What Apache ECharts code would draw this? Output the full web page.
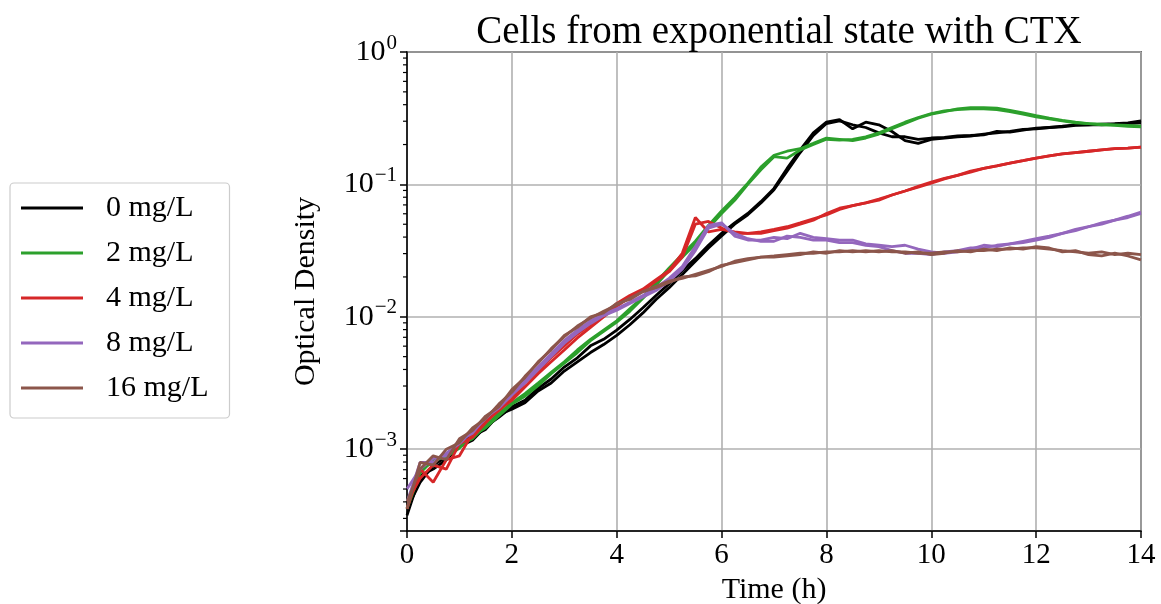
<!DOCTYPE html>
<html lang="en">
<head>
<meta charset="UTF-8" />
<title>Cells from exponential state with CTX</title>
<script src="https://cdnjs.cloudflare.com/ajax/libs/echarts/6.0.0/echarts.min.js"></script>
<style>
  * { margin: 0; padding: 0; }
  body { background: #fff; }
  #chart { width: 1161px; height: 604px; }
</style>
</head>
<body>
<div id="chart"></div>
<script>
// time points (h)
const timeH = [0, 0.25, 0.5, 0.75, 1, 1.25, 1.5, 1.75, 2, 2.25, 2.5, 2.75, 3, 3.25, 3.5, 3.75, 4, 4.25, 4.5, 4.75,
  5, 5.25, 5.5, 5.75, 6, 6.25, 6.5, 6.75, 7, 7.25, 7.5, 7.75, 8, 8.25, 8.5, 8.75, 9, 9.25, 9.5, 9.75,
  10, 10.25, 10.5, 10.75, 11, 11.25, 11.5, 11.75, 12, 12.25, 12.5, 12.75, 13, 13.25, 13.5, 13.75, 14];

// optical density, two replicates per concentration
const od0A = [3.16e-4, 6.31e-4, 7.08e-4, 8.32e-4, 1.05e-3, 1.17e-3, 1.48e-3, 1.74e-3, 2.09e-3, 2.34e-3,
  2.88e-3, 3.39e-3, 4.17e-3, 4.90e-3, 6.03e-3, 6.76e-3, 7.94e-3, 9.55e-3, 1.17e-2, 1.45e-2,
  1.78e-2, 2.24e-2, 2.75e-2, 3.47e-2, 4.27e-2, 5.13e-2, 6.03e-2, 7.41e-2, 9.33e-2, 0.132,
  0.182, 0.245, 0.295, 0.309, 0.263, 0.295, 0.282, 0.251, 0.214, 0.204,
  0.219, 0.224, 0.229, 0.232, 0.240, 0.245, 0.251, 0.260, 0.263, 0.269,
  0.275, 0.282, 0.282, 0.285, 0.288, 0.292, 0.302];
const od0B = [3.55e-4, 5.62e-4, 7.59e-4, 8.71e-4, 1.12e-3, 1.26e-3, 1.41e-3, 1.82e-3, 2.00e-3, 2.24e-3,
  2.75e-3, 3.16e-3, 3.89e-3, 4.57e-3, 5.37e-3, 6.17e-3, 7.24e-3, 8.71e-3, 1.07e-2, 1.35e-2,
  1.66e-2, 2.09e-2, 2.63e-2, 3.31e-2, 4.07e-2, 5.01e-2, 5.89e-2, 7.24e-2, 9.12e-2, 0.126,
  0.174, 0.234, 0.288, 0.302, 0.282, 0.269, 0.245, 0.229, 0.229, 0.219,
  0.224, 0.226, 0.232, 0.234, 0.237, 0.251, 0.248, 0.257, 0.266, 0.269,
  0.272, 0.279, 0.282, 0.282, 0.285, 0.288, 0.292];
const od2A = [3.98e-4, 7.08e-4, 7.94e-4, 9.12e-4, 1.07e-3, 1.20e-3, 1.51e-3, 1.86e-3, 2.24e-3, 2.63e-3,
  3.16e-3, 3.80e-3, 4.57e-3, 5.62e-3, 6.76e-3, 7.94e-3, 9.33e-3, 1.15e-2, 1.41e-2, 1.82e-2,
  2.34e-2, 2.95e-2, 3.72e-2, 4.90e-2, 6.31e-2, 7.94e-2, 0.102, 0.135, 0.166, 0.178,
  0.186, 0.204, 0.224, 0.219, 0.214, 0.224, 0.240, 0.263, 0.288, 0.316,
  0.339, 0.355, 0.372, 0.380, 0.380, 0.376, 0.363, 0.347, 0.331, 0.316,
  0.305, 0.295, 0.288, 0.285, 0.282, 0.279, 0.275];
const od2B = [3.55e-4, 6.61e-4, 8.32e-4, 8.71e-4, 1.02e-3, 1.26e-3, 1.45e-3, 1.78e-3, 2.19e-3, 2.51e-3,
  3.02e-3, 3.72e-3, 4.47e-3, 5.37e-3, 6.61e-3, 7.76e-3, 9.12e-3, 1.10e-2, 1.38e-2, 1.74e-2,
  2.24e-2, 2.82e-2, 3.55e-2, 4.68e-2, 6.03e-2, 7.59e-2, 0.100, 0.129, 0.162, 0.158,
  0.182, 0.200, 0.219, 0.216, 0.219, 0.229, 0.245, 0.269, 0.295, 0.320,
  0.343, 0.359, 0.367, 0.372, 0.372, 0.367, 0.355, 0.339, 0.324, 0.313,
  0.302, 0.292, 0.288, 0.282, 0.279, 0.275, 0.272];
const od4A = [3.55e-4, 7.08e-4, 5.62e-4, 8.32e-4, 8.91e-4, 1.32e-3, 1.62e-3, 1.95e-3, 2.40e-3, 3.16e-3,
  3.89e-3, 4.90e-3, 6.03e-3, 7.41e-3, 8.71e-3, 1.05e-2, 1.26e-2, 1.45e-2, 1.62e-2, 1.91e-2,
  2.24e-2, 3.02e-2, 5.62e-2, 4.37e-2, 4.57e-2, 4.37e-2, 4.27e-2, 4.37e-2, 4.57e-2, 4.79e-2,
  5.13e-2, 5.50e-2, 5.89e-2, 6.46e-2, 6.92e-2, 7.24e-2, 7.59e-2, 8.32e-2, 8.91e-2, 9.55e-2,
  0.102, 0.110, 0.117, 0.124, 0.132, 0.138, 0.145, 0.151, 0.158, 0.164,
  0.170, 0.174, 0.178, 0.182, 0.186, 0.188, 0.191];
const od4B = [3.98e-4, 6.03e-4, 7.59e-4, 7.08e-4, 1.10e-3, 1.23e-3, 1.58e-3, 2.00e-3, 2.34e-3, 2.95e-3,
  3.72e-3, 4.57e-3, 5.62e-3, 6.92e-3, 8.32e-3, 1.00e-2, 1.20e-2, 1.41e-2, 1.58e-2, 1.86e-2,
  2.19e-2, 2.82e-2, 5.01e-2, 5.25e-2, 4.68e-2, 4.27e-2, 4.27e-2, 4.27e-2, 4.47e-2, 4.68e-2,
  5.01e-2, 5.37e-2, 6.03e-2, 6.61e-2, 6.92e-2, 7.24e-2, 7.76e-2, 8.32e-2, 8.91e-2, 9.66e-2,
  0.104, 0.111, 0.117, 0.126, 0.132, 0.138, 0.145, 0.151, 0.158, 0.164,
  0.170, 0.174, 0.178, 0.182, 0.186, 0.188, 0.191];
const od8A = [3.98e-4, 7.94e-4, 7.94e-4, 9.33e-4, 1.10e-3, 1.38e-3, 1.70e-3, 2.14e-3, 2.63e-3, 3.31e-3,
  4.17e-3, 5.25e-3, 6.61e-3, 7.94e-3, 9.33e-3, 1.05e-2, 1.15e-2, 1.29e-2, 1.45e-2, 1.66e-2,
  1.95e-2, 2.40e-2, 3.39e-2, 4.90e-2, 5.13e-2, 4.07e-2, 3.80e-2, 3.80e-2, 3.98e-2, 3.89e-2,
  4.27e-2, 3.98e-2, 3.89e-2, 3.80e-2, 3.80e-2, 3.55e-2, 3.47e-2, 3.39e-2, 3.47e-2, 3.24e-2,
  3.09e-2, 3.02e-2, 3.09e-2, 3.24e-2, 3.47e-2, 3.39e-2, 3.55e-2, 3.63e-2, 3.80e-2, 3.98e-2,
  4.27e-2, 4.47e-2, 4.79e-2, 5.01e-2, 5.37e-2, 5.62e-2, 6.03e-2];
const od8B = [5.01e-4, 7.08e-4, 8.51e-4, 8.91e-4, 1.17e-3, 1.32e-3, 1.74e-3, 2.04e-3, 2.57e-3, 3.16e-3,
  3.98e-3, 5.01e-3, 6.31e-3, 7.59e-3, 8.91e-3, 1.02e-2, 1.12e-2, 1.26e-2, 1.41e-2, 1.58e-2,
  1.86e-2, 2.29e-2, 3.16e-2, 4.68e-2, 5.01e-2, 4.27e-2, 3.89e-2, 3.72e-2, 3.72e-2, 4.07e-2,
  3.98e-2, 3.80e-2, 3.80e-2, 3.63e-2, 3.63e-2, 3.47e-2, 3.39e-2, 3.16e-2, 3.02e-2, 3.02e-2,
  2.95e-2, 3.09e-2, 3.16e-2, 3.31e-2, 3.31e-2, 3.47e-2, 3.55e-2, 3.72e-2, 3.89e-2, 4.07e-2,
  4.27e-2, 4.57e-2, 4.79e-2, 5.13e-2, 5.37e-2, 5.75e-2, 6.17e-2];
const od16A = [3.55e-4, 7.94e-4, 7.59e-4, 1.00e-3, 1.12e-3, 1.45e-3, 1.70e-3, 2.19e-3, 2.69e-3, 3.55e-3,
  4.47e-3, 5.75e-3, 7.08e-3, 8.51e-3, 9.77e-3, 1.10e-2, 1.23e-2, 1.38e-2, 1.55e-2, 1.70e-2,
  1.86e-2, 1.95e-2, 2.09e-2, 2.24e-2, 2.40e-2, 2.63e-2, 2.75e-2, 2.82e-2, 2.88e-2, 2.95e-2,
  3.02e-2, 3.02e-2, 3.09e-2, 3.09e-2, 3.16e-2, 3.09e-2, 3.16e-2, 3.09e-2, 3.09e-2, 3.02e-2,
  3.02e-2, 3.09e-2, 3.09e-2, 3.16e-2, 3.16e-2, 3.24e-2, 3.24e-2, 3.31e-2, 3.31e-2, 3.24e-2,
  3.16e-2, 3.09e-2, 3.02e-2, 3.09e-2, 2.95e-2, 3.02e-2, 2.95e-2];
const od16B = [3.98e-4, 7.08e-4, 8.91e-4, 8.32e-4, 1.20e-3, 1.38e-3, 1.78e-3, 2.09e-3, 2.82e-3, 3.47e-3,
  4.57e-3, 5.62e-3, 7.24e-3, 8.32e-3, 1.00e-2, 1.07e-2, 1.26e-2, 1.35e-2, 1.55e-2, 1.66e-2,
  1.82e-2, 2.00e-2, 2.04e-2, 2.19e-2, 2.45e-2, 2.57e-2, 2.69e-2, 2.82e-2, 2.82e-2, 2.88e-2,
  2.95e-2, 3.09e-2, 3.02e-2, 3.16e-2, 3.09e-2, 3.16e-2, 3.09e-2, 3.16e-2, 3.02e-2, 3.09e-2,
  2.95e-2, 3.02e-2, 3.16e-2, 3.09e-2, 3.24e-2, 3.16e-2, 3.31e-2, 3.24e-2, 3.39e-2, 3.31e-2,
  3.09e-2, 3.16e-2, 2.95e-2, 2.88e-2, 3.02e-2, 2.88e-2, 2.69e-2];

const groupNames = ["0 mg/L", "2 mg/L", "4 mg/L", "8 mg/L", "16 mg/L"];
const groupColors = ["#000000", "#2ca02c", "#d62728", "#9467bd", "#8c564b"];
const groupData = [[od0A, od0B], [od2A, od2B], [od4A, od4B], [od8A, od8B], [od16A, od16B]];

const yMin = 2.41e-4;
const yMax = 1;
const font = "Liberation Serif";

// minor ticks of the log axis (2..9 x 10^n)
const minorTickVals = [];
for (let e = -4; e < 0; e++) {
  for (let k = 2; k <= 9; k++) {
    const v = k * Math.pow(10, e);
    if (v > yMin && v < yMax) minorTickVals.push([0, v]);
  }
}

const supFormat = (v) => {
  const lg = Math.log10(v);
  const e = Math.round(lg);
  if (Math.abs(lg - e) > 0.01) return "";
  const ex = e < 0 ? "\u2212" + -e : String(e);
  return "{b|10}{s|" + ex + "}";
};

const series = [];
groupNames.forEach((name, gi) => {
  groupData[gi].forEach((arr) => {
    series.push({
      name: name,
      type: "line",
      data: timeH.map((t, i) => [t, arr[i]]),
      showSymbol: false,
      symbol: "none",
      lineStyle: { color: groupColors[gi], width: 2.8 },
      itemStyle: { color: groupColors[gi] },
      z: 3 + gi,
      silent: true,
      animation: false,
    });
  });
});

// minor tick marks drawn through the y scale
series.push({
  type: "custom",
  data: minorTickVals,
  silent: true,
  clip: false,
  animation: false,
  z: 20,
  renderItem: (params, api) => {
    const p = api.coord([api.value(0), api.value(1)]);
    return {
      type: "line",
      shape: { x1: p[0] - 4, y1: p[1], x2: p[0], y2: p[1] },
      style: { stroke: "#000", lineWidth: 1.2 },
    };
  },
});

const chart = echarts.init(document.getElementById("chart"));
chart.setOption({
  animation: false,
  backgroundColor: "#fff",
  title: {
    text: "Cells from exponential state with CTX",
    left: 774,
    top: 8,
    textAlign: "center",
    textStyle: { fontFamily: font, fontSize: 39, fontWeight: "normal", color: "#000" },
  },
  legend: {
    data: groupNames,
    orient: "vertical",
    left: 10,
    top: 183,
    padding: [10, 21, 15, 11],
    itemGap: 15,
    itemWidth: 62,
    itemHeight: 3,
    icon: "rect",
    borderColor: "#cccccc",
    borderWidth: 1.2,
    borderRadius: 4,
    textStyle: { fontFamily: font, fontSize: 30, color: "#000", lineHeight: 30, padding: [0, 0, 0, 18] },
  },
  grid: {
    left: 407,
    right: 20,
    top: 52,
    bottom: 73,
    outerBoundsMode: "none",
    show: true,
    borderColor: "#000",
    borderWidth: 1.5,
    backgroundColor: "transparent",
  },
  xAxis: {
    type: "value",
    min: 0,
    max: 14,
    interval: 2,
    name: "Time (h)",
    nameLocation: "middle",
    nameGap: 44,
    nameTextStyle: { fontFamily: font, fontSize: 30, color: "#000" },
    axisLine: { lineStyle: { color: "#000", width: 1.5 } },
    axisTick: { length: 7, lineStyle: { color: "#000", width: 1.5 } },
    axisLabel: { fontFamily: font, fontSize: 29, color: "#000", margin: 10 },
    splitLine: { show: true, lineStyle: { color: "#b0b0b0", width: 1.6 } },
  },
  yAxis: {
    type: "log",
    logBase: 10,
    min: yMin,
    max: yMax,
    name: "Optical Density",
    nameLocation: "middle",
    nameGap: 86,
    nameTextStyle: { fontFamily: font, fontSize: 30, color: "#000" },
    axisLine: { show: true, lineStyle: { color: "#000", width: 1.5 } },
    axisTick: { length: 7, lineStyle: { color: "#000", width: 1.5 } },
    axisLabel: {
      formatter: supFormat,
      margin: 10,
      color: "#000",
      rich: {
        b: { fontFamily: font, fontSize: 30, color: "#000" },
        s: { fontFamily: font, fontSize: 21, color: "#000", padding: [0, 0, 18, 1] },
      },
    },
    splitLine: { show: true, lineStyle: { color: "#b0b0b0", width: 1.6 } },
  },
  series: series,
});
</script>
</body>
</html>
